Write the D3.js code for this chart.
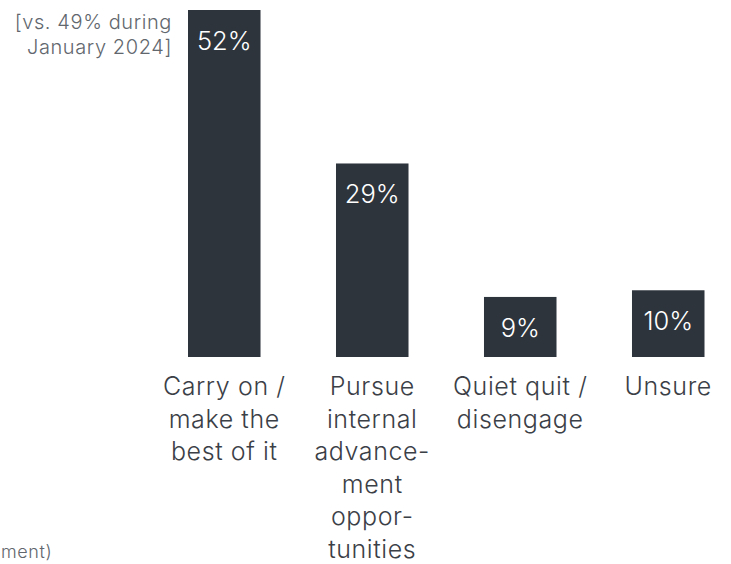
<!DOCTYPE html>
<html>
<head>
<meta charset="utf-8">
<script src="https://cdn.jsdelivr.net/npm/d3@7"></script>
<style>
  html, body { margin: 0; padding: 0; background: #fff; }
  svg { display: block; font-family: Inter, "Noto Sans", sans-serif; }
</style>
</head>
<body>
<svg id="chart" width="731" height="564"></svg>
<script>
// Share of respondents by intended response
const categories = ["carry", "pursue", "quiet", "unsure"];
const categoryLines = [
  ["Carry on /", "make the", "best of it"],
  ["Pursue", "internal", "advance-", "ment", "oppor-", "tunities"],
  ["Quiet quit /", "disengage"],
  ["Unsure"]
];
const values = [52, 29, 9, 10];
const valueLabels = ["52%", "29%", "9%", "10%"];
const noteLines = ["[vs. 49% during", "January 2024]"];
const baseText = "ment)";

const svg = d3.select("#chart");
const barColor = "#2d343c";

const x = d3.scaleBand()
  .domain(categories)
  .range([188, 704.5])
  .paddingInner(0.51)
  .paddingOuter(0);

const y = d3.scaleLinear()
  .domain([0, 52])
  .range([357, 10]);

// Bars
svg.append("g")
  .selectAll("rect")
  .data(values)
  .join("rect")
  .attr("x", (d, i) => x(categories[i]))
  .attr("y", d => y(d))
  .attr("width", x.bandwidth())
  .attr("height", d => y(0) - y(d))
  .attr("fill", barColor);

// Value labels inside the bars
svg.append("g")
  .selectAll("text")
  .data(values)
  .join("text")
  .attr("x", (d, i) => x(categories[i]) + x.bandwidth() / 2)
  .attr("y", d => y(d) + 40)
  .attr("text-anchor", "middle")
  .attr("fill", "#ffffff")
  .attr("font-size", 25.5)
  .attr("font-weight", 300)
  .text((d, i) => valueLabels[i]);

// Category labels, wrapped over several lines
const lineHeight = 32.6;
const firstBaseline = 395;
const catG = svg.append("g");
categories.forEach((c, i) => {
  const cx = x(c) + x.bandwidth() / 2;
  const t = catG.append("text")
    .attr("text-anchor", "middle")
    .attr("fill", "#3b4047")
    .attr("font-size", 25)
    .attr("font-weight", 300)
    .attr("letter-spacing", 0.6);
  categoryLines[i].forEach((line, j) => {
    t.append("tspan")
      .attr("x", cx)
      .attr("y", firstBaseline + j * lineHeight)
      .text(line);
  });
});

// Comparison note beside the first bar
const note = svg.append("text")
  .attr("text-anchor", "end")
  .attr("fill", "#62676e")
  .attr("font-size", 20)
  .attr("font-weight", 300)
  .attr("letter-spacing", 0.6);
noteLines.forEach((line, j) => {
  note.append("tspan")
    .attr("x", 172)
    .attr("y", 29 + j * 25)
    .text(line);
});

// Base note at the bottom edge
svg.append("text")
  .attr("x", 1)
  .attr("y", 558)
  .attr("fill", "#62676e")
  .attr("font-size", 18)
  .attr("font-weight", 300)
  .attr("letter-spacing", 0.6)
  .text(baseText);
</script>
</body>
</html>
